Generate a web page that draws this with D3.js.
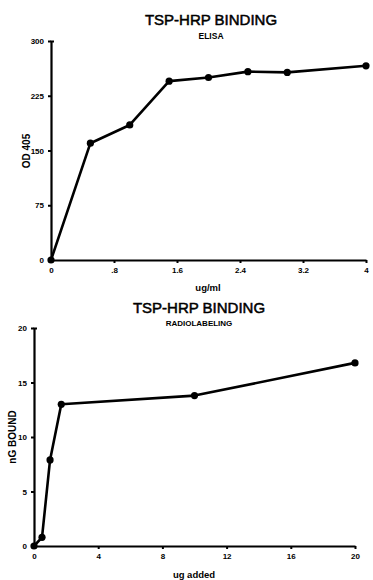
<!DOCTYPE html>
<html>
<head>
<meta charset="utf-8">
<script src="https://cdn.jsdelivr.net/npm/d3@7"></script>
<style>
  body { margin: 0; background: #fff; }
  svg { display: block; }
  text { font-family: "Liberation Sans", Arial, sans-serif; fill: #000; }
</style>
</head>
<body>
<svg id="chart" width="373" height="580"></svg>
<script>
// top panel: ELISA
const elisaDose = [0, 0.5, 1.0, 1.5, 2.0, 2.5, 3.0, 4.0];
const elisaOD = [0, 160, 185, 245, 250, 258, 257, 266];
const elisaXTicks = [0, 0.8, 1.6, 2.4, 3.2, 4];
const elisaXLabels = ['0', '.8', '1.6', '2.4', '3.2', '4'];
const elisaYTicks = [0, 75, 150, 225, 300];

// bottom panel: radiolabeling
const radioDose = [0, 0.5, 1, 1.7, 10, 20];
const radioBound = [0, 0.8, 7.9, 13, 13.8, 16.8];
const radioXTicks = [0, 4, 8, 12, 16, 20];
const radioYTicks = [0, 5, 10, 15, 20];

const svg = d3.select('#chart');

function panel(cfg) {
  const x = d3.scaleLinear().domain(cfg.xDomain).range(cfg.xRange);
  const y = d3.scaleLinear().domain(cfg.yDomain).range(cfg.yRange);
  const g = svg.append('g');

  // axes
  const xAxis = d3.axisBottom(x).tickValues(cfg.xTicks).tickSize(3).tickSizeOuter(0)
    .tickFormat((d, i) => cfg.xLabels ? cfg.xLabels[i] : d);
  const gx = g.append('g').attr('transform', `translate(0,${cfg.yRange[0]})`).call(xAxis);
  const yAxis = d3.axisLeft(y).tickValues(cfg.yTicks).tickSize(3).tickSizeOuter(-3);
  const gy = g.append('g').attr('transform', `translate(${cfg.xRange[0]},0)`).call(yAxis);

  [gx, gy].forEach(a => {
    a.select('.domain').attr('stroke', '#000').attr('stroke-width', 2.2);
    a.selectAll('.tick line').attr('stroke', '#000').attr('stroke-width', 2);
    a.selectAll('.tick text').attr('font-size', 8).attr('font-weight', 'bold')
      .attr('font-family', '"Liberation Sans", Arial, sans-serif');
  });
  gx.selectAll('.tick text').attr('dy', '0.9em');
  gy.selectAll('.tick text').attr('dx', '-1px');

  // data line
  const pts = cfg.xs.map((v, i) => [v, cfg.ys[i]]);
  g.append('path').datum(pts)
    .attr('fill', 'none').attr('stroke', '#000').attr('stroke-width', 2.6)
    .attr('stroke-linejoin', 'round')
    .attr('d', d3.line().x(d => x(d[0])).y(d => y(d[1])));
  g.selectAll('circle').data(pts).enter().append('circle')
    .attr('cx', d => x(d[0])).attr('cy', d => y(d[1])).attr('r', 3.6).attr('fill', '#000');

  // titles
  g.append('text').attr('x', cfg.titleX).attr('y', cfg.titleY).attr('text-anchor', 'middle')
    .attr('font-size', 15).attr('stroke', '#000').attr('stroke-width', 0.5).text('TSP-HRP BINDING');
  g.append('text').attr('x', cfg.titleX).attr('y', cfg.titleY + cfg.subDy).attr('text-anchor', 'middle')
    .attr('font-size', cfg.subSize).attr('font-weight', 'bold').text(cfg.sub);
  g.append('text').attr('x', cfg.xLabX).attr('y', cfg.xLabY).attr('text-anchor', 'middle')
    .attr('font-size', 9.5).attr('font-weight', 'bold').text(cfg.xLab);
  g.append('text').attr('transform', `translate(${cfg.yLabX},${cfg.yLabY}) rotate(-90)`)
    .attr('text-anchor', 'middle').attr('font-size', 10).attr('font-weight', 'bold').text(cfg.yLab);
}

panel({
  xDomain: [0, 4], xRange: [51, 366], yDomain: [0, 300], yRange: [260, 41],
  xTicks: elisaXTicks, xLabels: elisaXLabels, yTicks: elisaYTicks,
  xs: elisaDose, ys: elisaOD,
  titleX: 211, titleY: 25, sub: 'ELISA', subDy: 14, subSize: 8.5,
  xLab: 'ug/ml', xLabX: 208, xLabY: 291,
  yLab: 'OD 405', yLabX: 30, yLabY: 151
});

panel({
  xDomain: [0, 20], xRange: [34, 355], yDomain: [0, 20], yRange: [546, 328],
  xTicks: radioXTicks, yTicks: radioYTicks,
  xs: radioDose, ys: radioBound,
  titleX: 199, titleY: 313, sub: 'RADIOLABELING', subDy: 13, subSize: 8,
  xLab: 'ug added', xLabX: 194, xLabY: 578,
  yLab: 'nG BOUND', yLabX: 16, yLabY: 437
});
</script>
</body>
</html>
